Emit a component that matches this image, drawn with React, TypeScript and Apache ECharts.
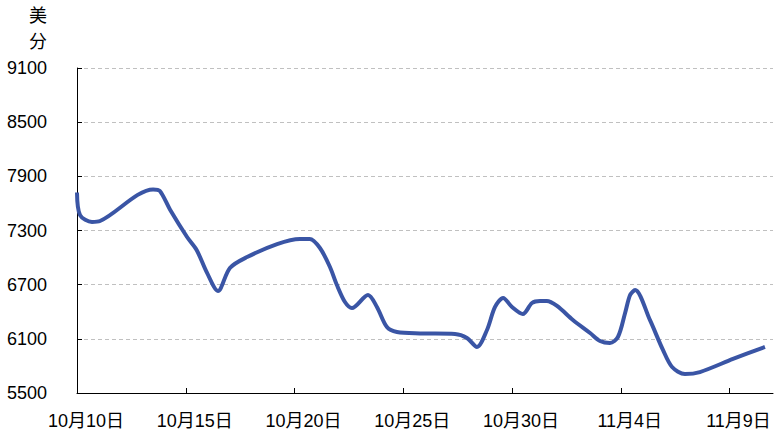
import React, { useEffect, useRef } from "react";
import * as echarts from "echarts";

// x position in days since 10月10日, y in 美分
const days = [0, 0.14, 0.69, 1.06, 3.5, 3.8, 4.28, 5.06, 5.5, 5.98, 6.48, 7.03, 7.82, 9.2, 10.25, 10.7, 11.17, 11.63, 11.95, 12.32, 12.64, 13.38, 13.79, 14.25, 14.71, 15.77, 17.38, 17.93, 18.39, 18.85, 19.22, 19.59, 20.0, 20.5, 20.92, 21.29, 21.6, 22.07, 22.8, 23.59, 24.05, 24.5, 24.87, 25.2, 25.43, 25.66, 26.34, 26.94, 27.36, 27.95, 28.64, 30.16, 31.63];
const prices = [7720, 7470, 7395, 7405, 7755, 7740, 7530, 7228, 7084, 6830, 6630, 6885, 7006, 7150, 7206, 7206, 7106, 6896, 6696, 6508, 6441, 6585, 6453, 6230, 6175, 6160, 6154, 6110, 6010, 6198, 6453, 6552, 6453, 6375, 6497, 6519, 6519, 6464, 6309, 6165, 6076, 6054, 6120, 6386, 6585, 6641, 6309, 5977, 5788, 5710, 5732, 5877, 6010];
const tickDays = [0, 5, 10, 15, 20, 25, 30];
const tickLabels = ["10月10日", "10月15日", "10月20日", "10月25日", "10月30日", "11月4日", "11月9日"];
const unitChars = ["美", "分"];

const FONT = "'Liberation Sans', 'Noto Sans CJK SC', sans-serif";

export default function App() {
  const ref = useRef<HTMLDivElement>(null);
  useEffect(() => {
    if (!ref.current) return;
    const chart = echarts.init(ref.current, null, { renderer: "svg" });
    chart.setOption({
      animation: false,
      backgroundColor: "#ffffff",
      graphic: unitChars.map((c, i) => ({
        type: "text",
        left: 29,
        top: 2 + i * 26,
        style: { text: c, fontSize: 18, lineHeight: 24, fill: "#000", fontFamily: "'Noto Sans CJK SC', sans-serif" },
      })),
      grid: { left: 77, right: 5, top: 68, bottom: 46, containLabel: false },
      xAxis: {
        type: "value",
        min: 0,
        max: 32,
        interval: 5,
        axisLine: { show: true, lineStyle: { color: "#000", width: 1 } },
        axisTick: { show: true, inside: true, length: 5, lineStyle: { color: "#000" }, customValues: tickDays },
        splitLine: { show: false },
        axisLabel: {
          customValues: tickDays,
          formatter: (v: number) => {
            const i = tickDays.indexOf(Math.round(v));
            return i >= 0 ? tickLabels[i] : "";
          },
          fontSize: 18,
          color: "#000",
          fontFamily: FONT,
          margin: 19,
          padding: [0, 0, 0, 18],
        },
      },
      yAxis: {
        type: "value",
        min: 5500,
        max: 9100,
        interval: 600,
        axisLine: { show: true, lineStyle: { color: "#000", width: 1 } },
        axisTick: { show: true, inside: true, length: 5, lineStyle: { color: "#000" } },
        splitLine: { show: true, lineStyle: { color: "#c0c0c0", type: [4, 3], width: 1 } },
        axisLabel: { fontSize: 18, color: "#000", fontFamily: FONT, margin: 30, formatter: (v: number) => String(v) },
      },
      series: [
        {
          type: "line",
          data: days.map((d, i) => [d, prices[i]]),
          smooth: 0.3,
          symbol: "none",
          lineStyle: { color: "#3a55a5", width: 4 },
        },
      ],
    });
    return () => chart.dispose();
  }, []);
  return <div ref={ref} style={{ width: 778, height: 439, position: "fixed", left: 0, top: 0 }} />;
}
